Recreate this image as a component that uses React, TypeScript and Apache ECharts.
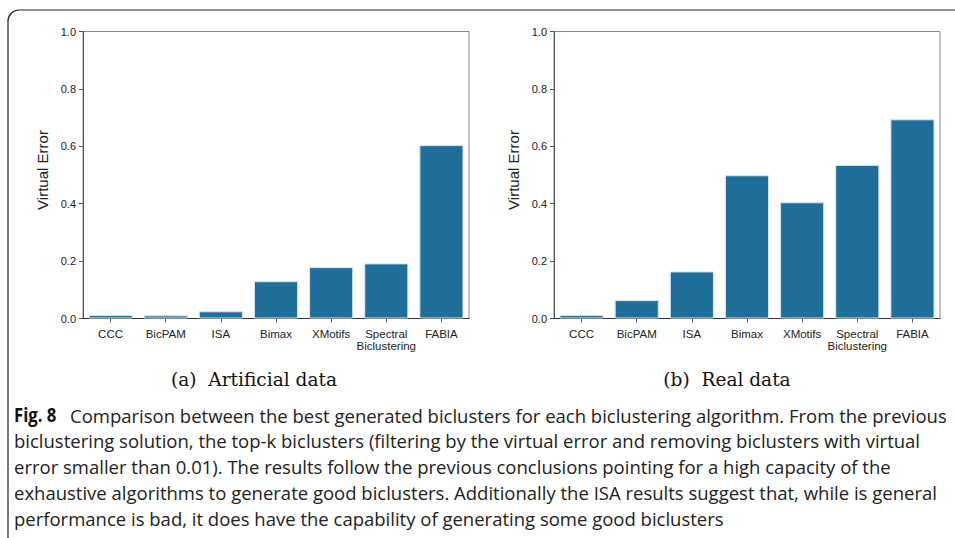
import React, { useEffect, useRef } from "react";
import * as echarts from "echarts";

const categories = ["CCC", "BicPAM", "ISA", "Bimax", "XMotifs", "Spectral\nBiclustering", "FABIA"];
const artificialValues = [0.012, 0.011, 0.025, 0.13, 0.179, 0.192, 0.604];
const realValues = [0.012, 0.064, 0.164, 0.499, 0.405, 0.535, 0.694];
const yTicks = [0, 0.2, 0.4, 0.6, 0.8, 1.0];
const subTitles = ["(a)  Artificial data", "(b)  Real data"];
const captionLines = [
  "Comparison between the best generated biclusters for each biclustering algorithm. From the previous",
  "biclustering solution, the top-k biclusters (filtering by the virtual error and removing biclusters with virtual",
  "error smaller than 0.01). The results follow the previous conclusions pointing for a high capacity of the",
  "exhaustive algorithms to generate good biclusters. Additionally the ISA results suggest that, while is general",
  "performance is bad, it does have the capability of generating some good biclusters",
];

const BAR = "#1f6e99";
const SANS = "Liberation Sans, Arial, sans-serif";

export default function App() {
  const ref = useRef<HTMLDivElement>(null);
  useEffect(() => {
    document.body.style.margin = "0";
    const chart = echarts.init(ref.current!, null, { renderer: "svg" });
    const grids = [
      { left: 83, top: 31.5, width: 386, height: 287 },
      { left: 554, top: 31.5, width: 386, height: 287 },
    ];
    const yAxisCommon = (i: number) => ({
      type: "value",
      gridIndex: i,
      min: yTicks[0],
      max: yTicks[yTicks.length - 1],
      interval: 0.2,
      name: "Virtual Error",
      nameLocation: "middle",
      nameGap: 33,
      nameTextStyle: { fontFamily: SANS, fontSize: 15, color: "#222", padding: [0, 0, 0, 10] },
      axisLine: { show: true, lineStyle: { color: "#555", width: 1 } },
      axisTick: { show: true, length: 4, lineStyle: { color: "#555" } },
      axisLabel: { fontFamily: SANS, fontSize: 11, color: "#222", margin: 7, formatter: (v: number) => v.toFixed(1) },
      splitLine: { show: false },
    });
    const xAxisCommon = (i: number) => ({
      type: "category",
      gridIndex: i,
      data: categories,
      axisLine: { show: true, lineStyle: { color: "#333", width: 1 } },
      axisTick: { show: true, alignWithLabel: true, length: 4, lineStyle: { color: "#555" } },
      axisLabel: { fontFamily: SANS, fontSize: 11.5, color: "#222", margin: 9, lineHeight: 12.5, interval: 0 },
    });
    const barSeries = (i: number, data: number[]) => ({
      type: "bar",
      xAxisIndex: i,
      yAxisIndex: i,
      data,
      barCategoryGap: "20%",
      itemStyle: { color: BAR, borderColor: "#d4e6f0", borderWidth: 1 },
    });
    const graphics: any[] = [
      {
        type: "rect",
        shape: { x: 8, y: 10, width: 1000, height: 600, r: [11, 0, 0, 0] },
        style: { fill: "none", stroke: "#222", lineWidth: 1.2 },
        silent: true,
      },
      {
        type: "text",
        x: 254,
        y: 380,
        style: { text: subTitles[0], font: "18px 'DejaVu Serif', serif", fill: "#111", align: "center", verticalAlign: "middle" },
        scaleX: 1.03,
      },
      {
        type: "text",
        x: 727,
        y: 380,
        style: { text: subTitles[1], font: "18px 'DejaVu Serif', serif", fill: "#111", align: "center", verticalAlign: "middle" },
        scaleX: 1.03,
      },
      {
        type: "text",
        x: 14,
        y: 415,
        style: { text: "Fig. 8", font: "bold 19px 'Open Sans', sans-serif", fill: "#111", verticalAlign: "middle" },
        scaleX: 0.88,
      },
    ];
    captionLines.forEach((line, i) => {
      graphics.push({
        type: "text",
        x: i === 0 ? 70 : 14,
        y: 415 + i * 25.8,
        style: { text: line, font: "18.5px 'Open Sans', sans-serif", fill: "#222", verticalAlign: "middle" },
        scaleX: 1.0,
      });
    });
    chart.setOption({
      animation: false,
      backgroundColor: "#fff",
      grid: grids.map((g) => ({ ...g, show: true, borderColor: "#888", borderWidth: 1, backgroundColor: "transparent" })),
      xAxis: [xAxisCommon(0), xAxisCommon(1)],
      yAxis: [yAxisCommon(0), yAxisCommon(1)],
      series: [barSeries(0, artificialValues), barSeries(1, realValues)],
      graphic: graphics,
    });
    return () => chart.dispose();
  }, []);
  return <div ref={ref} style={{ position: "absolute", left: 0, top: 0, width: 955, height: 538 }} />;
}
